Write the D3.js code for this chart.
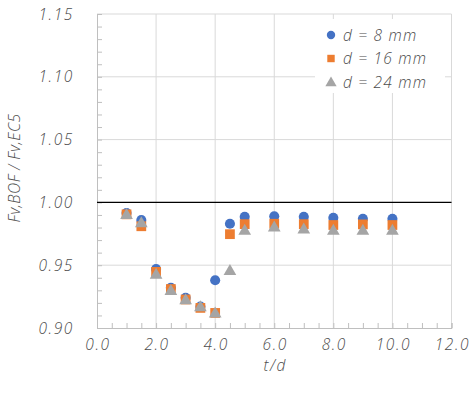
<!DOCTYPE html>
<html><head><meta charset="utf-8">
<script src="https://cdn.jsdelivr.net/npm/d3@7"></script>
<style>
body{margin:0;background:#fff;}
text{font-family:"Open Sans",sans-serif;font-style:italic;font-weight:300;fill:#4d4d4d;}
</style></head>
<body><svg id="c" width="473" height="396"></svg>
<script>
const tdValues = [1, 1.5, 2, 2.5, 3, 3.5, 4, 4.5, 5, 6, 7, 8, 9, 10];
const d8  = [0.9915, 0.986, 0.947, 0.932, 0.924, 0.917, 0.938, 0.983, 0.9885, 0.989, 0.9885, 0.9877, 0.987, 0.987];
const d16 = [0.9905, 0.981, 0.9447, 0.931, 0.9227, 0.916, 0.912, 0.9747, 0.9827, 0.983, 0.9827, 0.982, 0.9825, 0.982];
const d24 = [0.9905, 0.984, 0.943, 0.930, 0.9227, 0.917, 0.912, 0.946, 0.978, 0.9805, 0.979, 0.978, 0.978, 0.978];
const seriesNames = ["d = 8 mm", "d = 16 mm", "d = 24 mm"];
const seriesColors = ["#4472C4", "#ED7D31", "#A5A5A5"];
const xTicks = [0, 2, 4, 6, 8, 10, 12];
const yTicks = [0.90, 0.95, 1.00, 1.05, 1.10, 1.15];
const xTitle = "t/d";
const yTitle = "Fv,BOF / Fv,EC5";

const svg = d3.select("#c");
const L = 97, R = 451.5, T = 14, B = 328;
const x = d3.scaleLinear().domain([0, 12]).range([L, R]);
const y = d3.scaleLinear().domain([0.90, 1.15]).range([B, T]);

// gridlines
const g = svg.append("g");
g.selectAll(".vg").data(xTicks.slice(1)).join("line")
  .attr("x1", d => x(d)).attr("x2", d => x(d)).attr("y1", T).attr("y2", B)
  .attr("stroke", "#D9D9D9").attr("stroke-width", 1);
g.selectAll(".hg").data(yTicks.slice(1).filter(v => v !== 1.00)).join("line")
  .attr("x1", L).attr("x2", R).attr("y1", d => y(d)).attr("y2", d => y(d))
  .attr("stroke", "#D9D9D9").attr("stroke-width", 1);

// axes with inside minor ticks
const xAxis = d3.axisBottom(x).tickValues(d3.range(0, 12.01, 0.5)).tickSize(-5).tickFormat("");
const xa = svg.append("g").attr("transform", `translate(0,${B})`).call(xAxis);
const yAxis = d3.axisLeft(y).tickValues(d3.range(0.90, 1.1501, 0.01)).tickSize(-5).tickFormat("");
const ya = svg.append("g").attr("transform", `translate(${L},0)`).call(yAxis);
[xa, ya].forEach(a => { a.selectAll("line,path").attr("stroke", "#BFBFBF"); });

// tick labels
svg.selectAll(".xl").data(xTicks).join("text")
  .attr("x", d => x(d) + 1).attr("y", 350).attr("text-anchor", "middle")
  .attr("font-size", 15.5).attr("letter-spacing", 1.6).text(d => d.toFixed(1));
svg.selectAll(".yl").data(yTicks).join("text")
  .attr("x", 74).attr("y", d => y(d) + 5.5).attr("text-anchor", "end")
  .attr("font-size", 15.5).attr("letter-spacing", 1.6).text(d => d.toFixed(2));

// reference line at 1.00
svg.append("line").attr("x1", L).attr("x2", R).attr("y1", y(1)).attr("y2", y(1))
  .attr("stroke", "#000").attr("stroke-width", 1.3);

// axis titles
svg.append("text").attr("x", (L + R) / 2 + 1).attr("y", 371).attr("text-anchor", "middle")
  .attr("font-size", 15.5).attr("letter-spacing", 1.5).text(xTitle);
svg.append("text").attr("transform", `translate(20,${(T + B) / 2 - 3}) rotate(-90)`)
  .attr("text-anchor", "middle").attr("font-size", 15.5).attr("letter-spacing", 0.5).text(yTitle);

// markers
const all = [d8, d16, d24];
const sym = [d3.symbolCircle, d3.symbolSquare, d3.symbolTriangle];
const sizes = [80, 95, 70];
all.forEach((vals, i) => {
  svg.append("g").selectAll("path").data(tdValues.map((t, k) => [t, vals[k]])).join("path")
    .attr("d", d3.symbol().type(sym[i]).size(sizes[i]))
    .attr("transform", d => `translate(${x(d[0])},${y(d[1]) + (i === 2 ? 1 : 0)})`)
    .attr("fill", seriesColors[i]);
});

// legend
const lg = svg.append("g");
lg.append("rect").attr("x", 315).attr("y", 19).attr("width", 130).attr("height", 74).attr("fill", "#fff");
seriesNames.forEach((n, i) => {
  const yy = 35 + i * 23.5;
  lg.append("path").attr("d", d3.symbol().type(sym[i]).size(55)())
    .attr("transform", `translate(331,${yy + (i === 2 ? 1 : 0)})`).attr("fill", seriesColors[i]);
  lg.append("text").attr("x", 343).attr("y", yy + 5.5).attr("font-size", 15.5).attr("letter-spacing", 1.2).text(n);
});
</script></body></html>
